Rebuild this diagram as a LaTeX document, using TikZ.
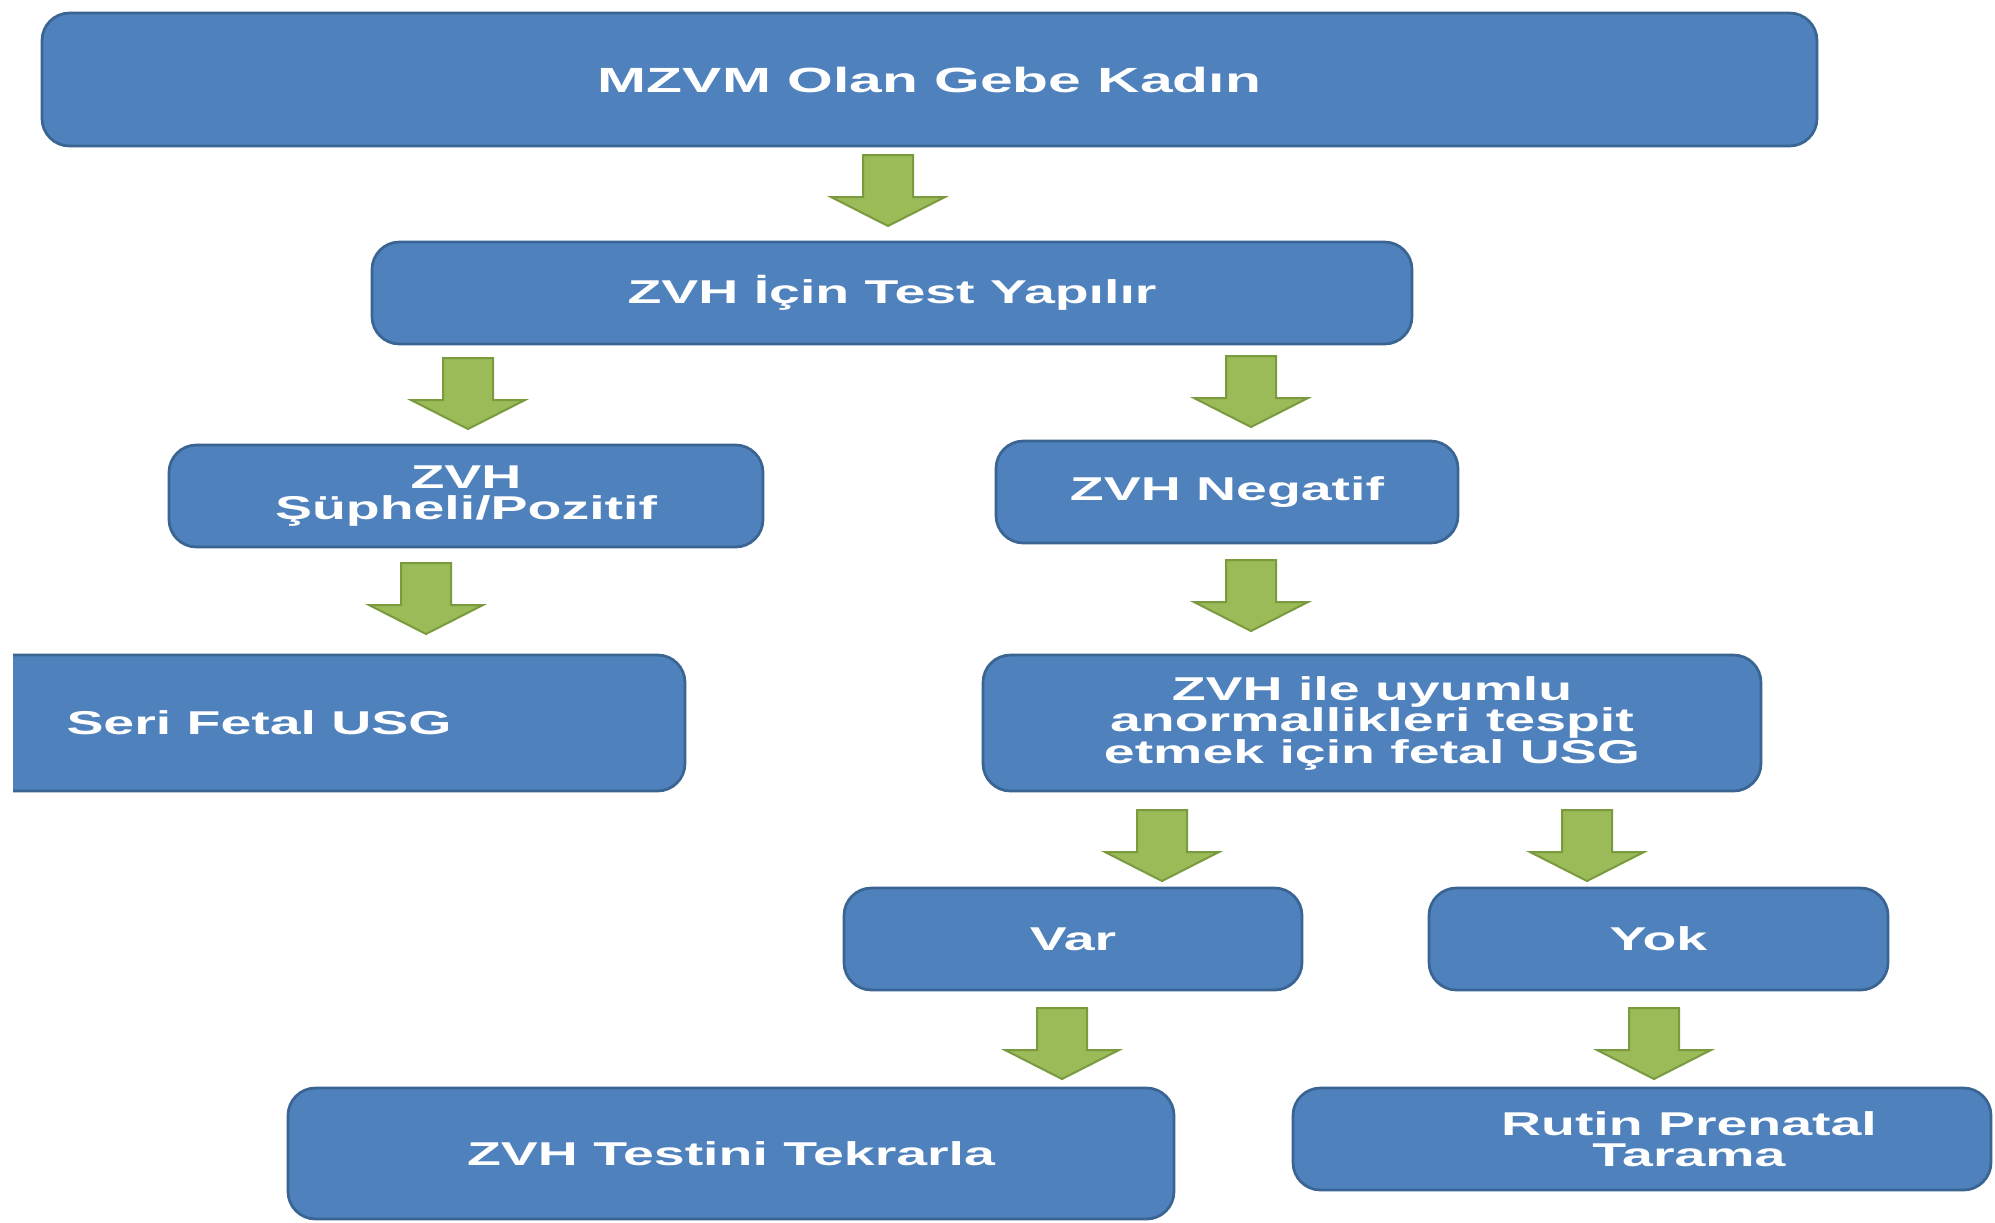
\documentclass[tikz,border=0pt]{standalone}
\usepackage{fontspec}
\setmainfont{Liberation Sans}[FakeStretch=1.68]
\usetikzlibrary{fit}
\definecolor{boxblue}{HTML}{4F81BD}
\definecolor{boxedge}{HTML}{3A6593}
\definecolor{agreen}{HTML}{9BBB59}
\definecolor{agreenedge}{HTML}{7A9A3E}
\begin{document}
\begin{tikzpicture}[x=0.4pt,y=-0.4pt,
  box/.style={draw=boxedge, line width=1.1pt, fill=boxblue, rounded corners=11pt, inner sep=0pt},
  lbl/.style={text=white, font=\bfseries\fontsize{13.2}{12.6}\selectfont, align=center, inner sep=0pt},
  garrow/.pic={\filldraw[fill=agreen, draw=agreenedge, line width=0.8pt]
     (-25,0) -- (25,0) -- (25,42) -- (57,42) -- (0,71) -- (-57,42) -- (-25,42) -- cycle;}]
\useasboundingbox[fill=white] (0,0) rectangle (1995,1222);

% boxes
\node[box, fit={(42,13) (1817,146)}] (top) {};
\node[box, fit={(372,242) (1412,344)}] (test) {};
\node[box, fit={(169,445) (763,547)}] (poz) {};
\node[box, fit={(996,441) (1458,543)}] (neg) {};
\begin{scope}
  \clip (13,0) rectangle (1995,1222);
  \node[box, fit={(-40,655) (685,791)}] (seri) {};
\end{scope}
\node[box, fit={(983,655) (1761,791)}] (uyum) {};
\node[box, fit={(844,888) (1302,990)}] (var) {};
\node[box, fit={(1429,888) (1888,990)}] (yok) {};
\node[box, fit={(288,1088) (1174,1219)}] (tekrar) {};
\node[box, fit={(1293,1088) (1991,1190)}] (rutin) {};

% texts
\node[lbl, font=\bfseries\fontsize{14}{14}\selectfont] (toptxt) at (top.center) {MZVM Olan Gebe Kadın};
\node[lbl] (testtxt) at (test.center) {ZVH İçin Test Yapılır};
\node[lbl] (poztxt) at (poz.center) {ZVH\\Şüpheli/Pozitif};
\node[lbl] (negtxt) at (neg.center) {ZVH Negatif};
\node[lbl, anchor=west] (seritxt) at (66,723) {Seri Fetal USG};
\node[lbl] (uyumtxt) at (uyum.center) {ZVH ile uyumlu\\anormallikleri tespit\\etmek için fetal USG};
\node[lbl] (vartxt) at (var.center) {Var};
\node[lbl] (yoktxt) at (yok.center) {Yok};
\node[lbl] (tekrartxt) at (tekrar.center) {ZVH Testini Tekrarla};
\node[lbl] (rutintxt) at (1689,1139) {Rutin Prenatal\\Tarama};

% block arrows
\pic at (888,155) {garrow};
\pic at (468,358) {garrow};
\pic at (1251,356) {garrow};
\pic at (426,563) {garrow};
\pic at (1251,560) {garrow};
\pic at (1162,810) {garrow};
\pic at (1587,810) {garrow};
\pic at (1062,1008) {garrow};
\pic at (1654,1008) {garrow};
\end{tikzpicture}
\end{document}
